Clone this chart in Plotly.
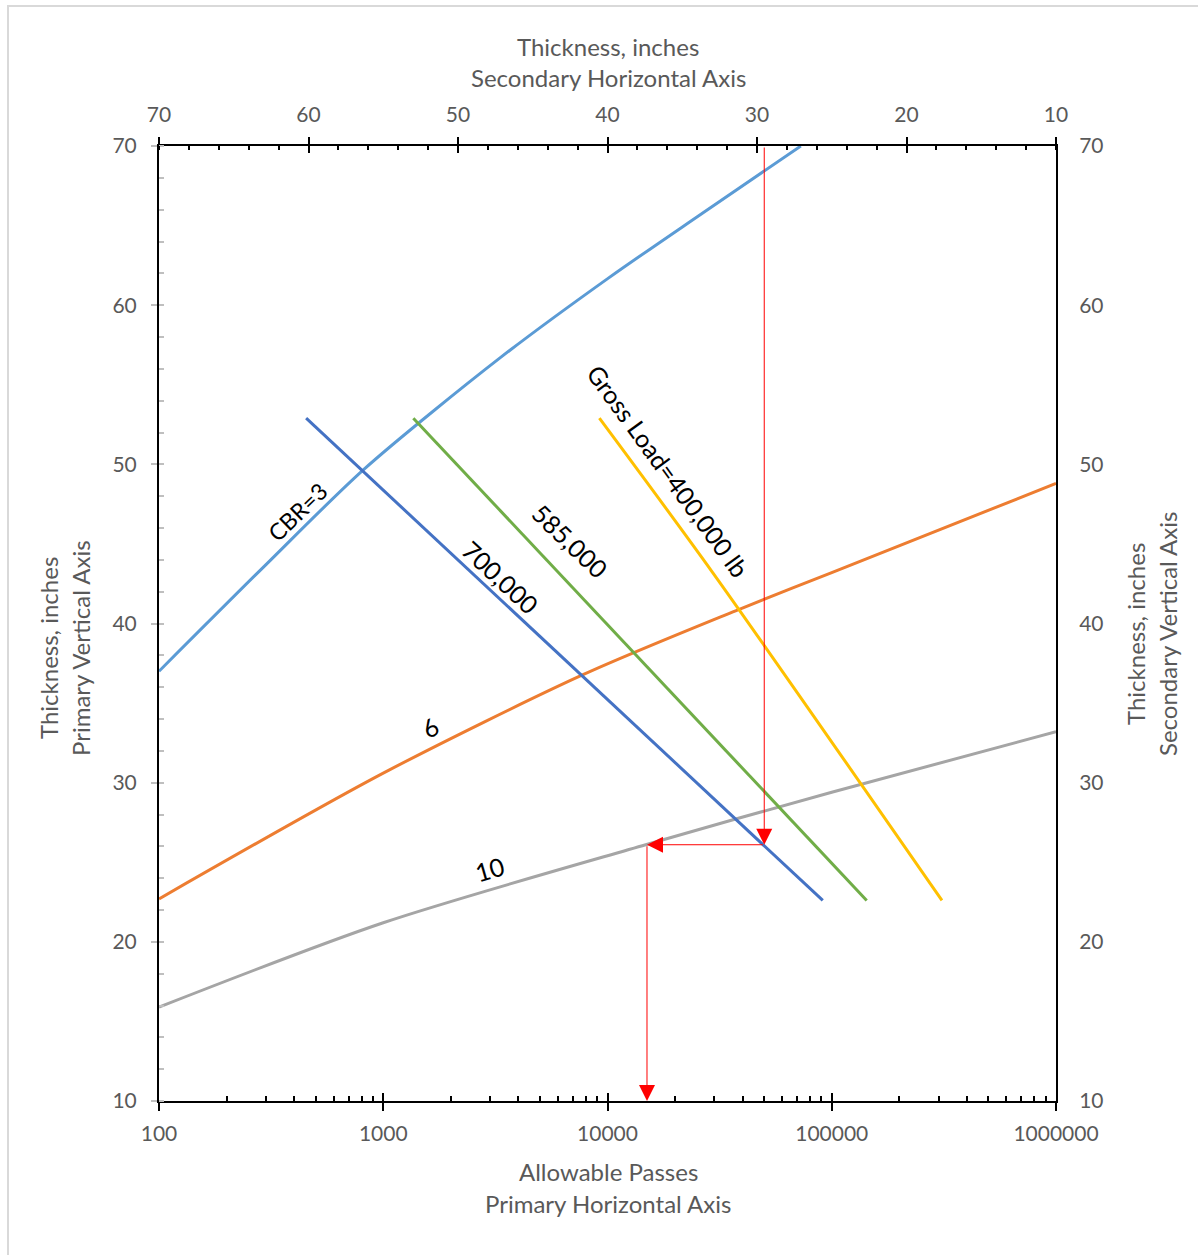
import numpy as np
import plotly.graph_objects as go

# ---------------- data ----------------
passes_cbr3 = [100, 300, 822, 3327, 10090, 26000, 72800]
thick_cbr3 = [37.0, 43.7, 49.7, 56.7, 61.7, 65.7, 70.0]

passes_cbr6 = [100, 1000, 7820, 37250, 100000, 1000000]
thick_cbr6 = [22.7, 30.6, 36.8, 40.8, 43.2, 48.8]

passes_cbr10 = [100, 1000, 14800, 100000, 1000000]
thick_cbr10 = [15.9, 21.2, 26.1, 29.4, 33.2]

passes_700k = [453, 91200]
thick_700k = [52.9, 22.6]

passes_585k = [1362, 143200]
thick_585k = [52.9, 22.6]

passes_400k = [9200, 29450, 310000]
thick_400k = [52.9, 43.2, 22.6]

# example read-off path (arrows)
example_passes_in = 50000
example_top_thick = 70
example_thick = 26.1
example_passes_out = 15000
example_bottom_thick = 10

x_tickvals = [100, 1000, 10000, 100000, 1000000]
x_ticktext = ["100", "1000", "10000", "100000", "1000000"]
y_tickvals = [10, 20, 30, 40, 50, 60, 70]
top_tickvals = [70, 60, 50, 40, 30, 20, 10]

labels = ["CBR=3", "6", "10", "700,000", "585,000", "Gross Load=400,000 lb"]

# ---------------- style ----------------
FONT = "Lato, Carlito, Calibri, sans-serif"
GREY_TXT = "#595959"
GREY_TICK = "#BFBFBF"
W, H = 1198, 1255
L, R, T, B = 159, 142, 146, 154


def px_x(px):
    return (px - L) / (W - L - R)


def px_y(py):
    return (H - B - py) / (H - T - B)


fig = go.Figure()

series = [
    (passes_cbr3, thick_cbr3, "#5B9BD5", "spline"),
    (passes_cbr6, thick_cbr6, "#ED7D31", "spline"),
    (passes_cbr10, thick_cbr10, "#A5A5A5", "spline"),
    (passes_700k, thick_700k, "#4472C4", "linear"),
    (passes_585k, thick_585k, "#70AD47", "linear"),
    (passes_400k, thick_400k, "#FFC000", "spline"),
]
for xs, ys, col, shp in series:
    fig.add_trace(go.Scatter(x=xs, y=ys, mode="lines",
                             line=dict(color=col, width=3, shape=shp, smoothing=0.8),
                             hoverinfo="skip"))

# empty traces to activate secondary / helper axes
fig.add_trace(go.Scatter(x=[], y=[], xaxis="x2", yaxis="y2"))
fig.add_trace(go.Scatter(x=[], y=[], xaxis="x3", yaxis="y"))
fig.add_trace(go.Scatter(x=[], y=[], xaxis="x4", yaxis="y"))
fig.add_trace(go.Scatter(x=[], y=[], xaxis="x", yaxis="y3"))

minor_x = [m * 10 ** d for d in range(2, 6) for m in range(2, 10)]
TICKFONT = dict(family=FONT, size=21, color=GREY_TXT)

fig.update_layout(
    width=W, height=H,
    margin=dict(l=L, r=R, t=T, b=B),
    paper_bgcolor="white", plot_bgcolor="white",
    showlegend=False,
    font=dict(family=FONT, size=21, color=GREY_TXT),
    xaxis=dict(type="log", range=[2, 6], tickmode="array",
               tickvals=x_tickvals, ticktext=x_ticktext,
               ticks="outside", ticklen=8, tickwidth=2, tickcolor="black",
               ticklabelstandoff=5,
               showline=True, linecolor="black", linewidth=2,
               showgrid=False, zeroline=False,
               tickfont=TICKFONT,
               minor=dict(tickmode="array", tickvals=minor_x, ticks="inside",
                          ticklen=5, tickwidth=2, tickcolor="black", showgrid=False)),
    xaxis3=dict(type="log", range=[2, 6], overlaying="x", anchor="y", side="bottom",
                tickmode="array", tickvals=x_tickvals, ticks="inside", ticklen=8,
                tickwidth=2, tickcolor="black", showticklabels=False,
                showline=False, showgrid=False, zeroline=False),
    xaxis2=dict(range=[70, 10], overlaying="x", anchor="y", side="top",
                tickmode="array", tickvals=top_tickvals,
                ticks="outside", ticklen=7, tickwidth=2, tickcolor="black",
                ticklabelstandoff=7,
                showline=True, linecolor="black", linewidth=2,
                showgrid=False, zeroline=False,
                tickfont=TICKFONT,
                minor=dict(dtick=2, tick0=10, ticks="inside", ticklen=4, tickwidth=2,
                           tickcolor="black", showgrid=False)),
    xaxis4=dict(range=[70, 10], overlaying="x", anchor="y", side="top",
                tickmode="array", tickvals=top_tickvals, ticks="inside", ticklen=7,
                tickwidth=2, tickcolor="black", showticklabels=False,
                showline=False, showgrid=False, zeroline=False),
    yaxis=dict(range=[10, 70], tickmode="array", tickvals=y_tickvals,
               ticks="outside", ticklen=6, tickwidth=2, tickcolor=GREY_TICK,
               ticklabelstandoff=10,
               showline=True, linecolor="black", linewidth=2,
               showgrid=False, zeroline=False,
               tickfont=TICKFONT,
               minor=dict(dtick=2, tick0=10, ticks="inside", ticklen=5, tickwidth=2,
                          tickcolor=GREY_TICK, showgrid=False)),
    yaxis3=dict(range=[10, 70], overlaying="y", anchor="x", side="left",
                tickmode="array", tickvals=y_tickvals, ticks="inside", ticklen=5,
                tickwidth=2, tickcolor=GREY_TICK, showticklabels=False,
                showline=False, showgrid=False, zeroline=False),
    yaxis2=dict(range=[10, 70], overlaying="y", anchor="x", side="right",
                tickmode="array", tickvals=y_tickvals, ticks="",
                ticklabelstandoff=17,
                showline=True, linecolor="black", linewidth=2,
                showgrid=False, zeroline=False,
                tickfont=TICKFONT),
)

ann = []
# axis titles
title_font = dict(family=FONT, size=24, color=GREY_TXT)
for txt, px, py, ang in [
    ("Thickness, inches", 608, 47, 0),
    ("Secondary Horizontal Axis", 608, 78, 0),
    ("Allowable Passes", 608, 1171, 0),
    ("Primary Horizontal Axis", 608, 1203, 0),
    ("Thickness, inches", 48, 648, -90),
    ("Primary Vertical Axis", 80, 648, -90),
    ("Thickness, inches", 1135, 634, -90),
    ("Secondary Vertical Axis", 1167, 634, -90),
]:
    ann.append(dict(text=txt, xref="paper", yref="paper", x=px_x(px), y=px_y(py),
                    xanchor="center", yanchor="middle", showarrow=False,
                    textangle=ang, font=title_font))

# curve labels
label_pos = [(413, 47.0, -44, 23), (1622, 33.5, -27, 25), (2970, 24.6, -16, 25),
             (3330, 42.9, 43, 25), (6840, 45.2, 44, 25), (18700, 49.6, 54, 25)]
for txt, (lx, ly, ang, fs) in zip(labels, label_pos):
    ann.append(dict(text=txt, x=np.log10(lx), y=ly, xref="x", yref="y",
                    showarrow=False, textangle=ang, xanchor="center", yanchor="middle",
                    font=dict(family=FONT, size=fs, color="black")))

# red arrows
arrow_style = dict(showarrow=True, arrowhead=2, arrowsize=3.2, arrowwidth=1,
                   arrowcolor="#FF0000", text="", xref="x", yref="y",
                   axref="x", ayref="y", standoff=0)
ann.append(dict(x=np.log10(example_passes_in), y=example_thick,
                ax=np.log10(example_passes_in), ay=example_top_thick, **arrow_style))
ann.append(dict(x=np.log10(example_passes_out), y=example_thick,
                ax=np.log10(example_passes_in), ay=example_thick, **arrow_style))
ann.append(dict(x=np.log10(example_passes_out), y=example_bottom_thick,
                ax=np.log10(example_passes_out), ay=example_thick, **arrow_style))

fig.update_layout(annotations=ann)

# outer light-grey frame
fig.add_shape(type="rect", xref="paper", yref="paper",
              x0=px_x(8), x1=px_x(1210), y0=px_y(1270), y1=px_y(6),
              line=dict(color="#D9D9D9", width=2), fillcolor="rgba(0,0,0,0)", layer="below")

fig.write_html("out.html")
